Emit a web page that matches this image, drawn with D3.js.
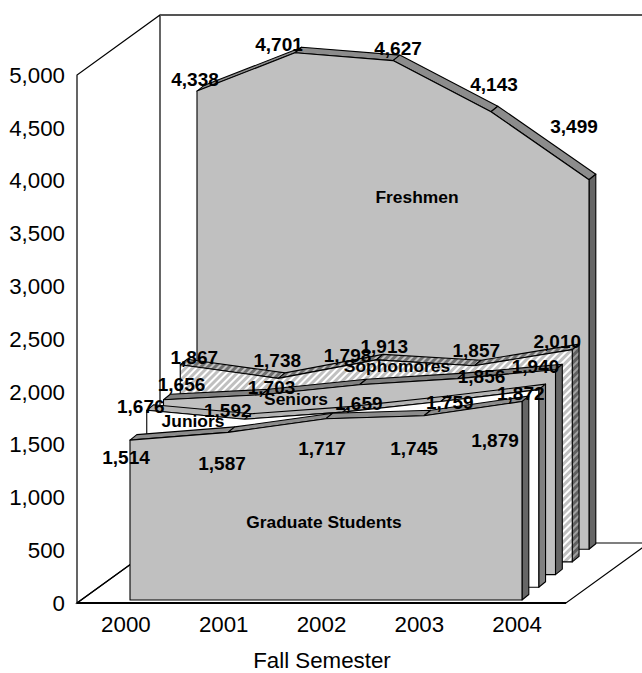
<!DOCTYPE html>
<html><head><meta charset="utf-8">
<script src="https://d3js.org/d3.v7.min.js"></script>
<style>html,body{margin:0;padding:0;background:#fff;overflow:hidden}svg{display:block}</style>
</head><body><svg id="c" width="642" height="673"></svg>
<script>
const years = ["2000","2001","2002","2003","2004"];
const yTicks = [0,500,1000,1500,2000,2500,3000,3500,4000,4500,5000];
const seriesNames = ["Freshmen","Sophomores","Seniors","Juniors","Graduate Students"];
const freshmen = [4338,4701,4627,4143,3499];
const sophomores = [1867,1738,1913,1857,2010];
const seniors = [1656,1703,1798,1856,1940];
const juniors = [1676,1592,1659,1759,1872];
const graduate = [1514,1587,1717,1745,1879];
const seriesValues = [freshmen,sophomores,seniors,juniors,graduate];

// layout (not data)
const W=642,H=673;
const floorY=603, topY=75, frontL=77, frontR=566;
const wallDX=83, wallDY=-60;
const slotDX=16.75, slotDY=-12.7, thickDX=6.8, thickDY=-5.5;
const firstX=130, firstBase=600, span=392;
const styles=[
 {front:"#c0c0c0",top:"#8c8c8c",side:"#666666"},
 {front:"url(#hatch)",top:"url(#hatch2)",side:"url(#hatch3)"},
 {front:"#c0c0c0",top:"#808080",side:"#666666"},
 {front:"#ffffff",top:"#b4b4b4",side:"#808080"},
 {front:"#c0c0c0",top:"#8c8c8c",side:"#666666"}
];
const labelNudge=[
 [[-2,-12],[-16,-8],[5,-12],[3,-27],[-15,-53]],
 [[14,-7],[-1,-18],[8,-14],[2,-15],[-15,-8]],
 [[18,-15],[10,-7],[-12,-29],[24,-2],[-20,-3]],
 [[-6,-4],[-17,-9],[16,-9],[9,1],[-18,4]],
 [[-4,17],[-6,31],[-4,30],[-10,33],[-27,39]]
];
const nameAnchors=[[417,197],[397,366],[296,399],[193,421],[324,522]];

const svg=d3.select("#c");
const defs=svg.append("defs");
function hatch(id,bg,fg){
  const p=defs.append("pattern").attr("id",id).attr("width",5).attr("height",5)
    .attr("patternUnits","userSpaceOnUse").attr("patternTransform","rotate(45)");
  p.append("rect").attr("width",5).attr("height",5).attr("fill",bg);
  p.append("rect").attr("width",3).attr("height",5).attr("fill",fg);
}
hatch("hatch","#ffffff","#c0c0c0");
hatch("hatch2","#c0c0c0","#707070");
hatch("hatch3","#a0a0a0","#606060");

const y=d3.scaleLinear().domain([0,5000]).range([0,floorY-topY]);
const x=d3.scalePoint().domain(years).range([0,span]);
const poly=d3.line().curve(d3.curveLinearClosed);
const xBand=d3.scaleBand().domain(years).range([frontL,frontR]);
const yAxisScale=d3.scaleLinear().domain([0,5000]).range([floorY,topY]);

// walls and floor
const wall=svg.append("g").attr("fill","none").attr("stroke","#000").attr("stroke-width",1.2);
wall.append("path").attr("d",poly([[frontL,floorY],[frontL,topY],[frontL+wallDX,topY+wallDY],[frontL+wallDX,floorY+wallDY]]));
wall.append("path").attr("d",poly([[frontL,floorY],[frontR,floorY],[frontR+wallDX,floorY+wallDY],[frontL+wallDX,floorY+wallDY]]));
wall.append("path").attr("stroke","#555").attr("stroke-width",2)
  .attr("d",d3.line()([[frontL+wallDX,topY+wallDY],[W+5,topY+wallDY]]));
svg.append("line").attr("x1",frontL).attr("x2",frontR).attr("y1",floorY).attr("y2",floorY).attr("stroke","#000").attr("stroke-width",2);

// extruded areas, back to front
seriesValues.forEach((vals,k)=>{
  const i=seriesValues.length-1-k;
  const x0=firstX+i*slotDX, base=firstBase+i*slotDY;
  const pts=vals.map((v,j)=>[x0+x(years[j]),base-y(v)]);
  const g=svg.append("g").attr("stroke","#000").attr("stroke-width",1.1).attr("stroke-linejoin","round");
  const st=styles[k];
  d3.pairs(pts).forEach(([a,b])=>{
    g.append("path").attr("fill",st.top)
      .attr("d",poly([a,b,[b[0]+thickDX,b[1]+thickDY],[a[0]+thickDX,a[1]+thickDY]]));
  });
  const last=pts[pts.length-1];
  g.append("path").attr("fill",st.side)
    .attr("d",poly([last,[last[0]+thickDX,last[1]+thickDY],[last[0]+thickDX,base+thickDY],[last[0],base]]));
  g.append("path").attr("fill",st.front)
    .attr("d",poly([[pts[0][0],base],...pts,[last[0],base]]));
});

// value labels
const labels=svg.append("g").attr("font-family","'Liberation Sans',Arial,sans-serif").attr("font-weight","bold")
  .attr("text-anchor","middle").attr("fill","#000");
const fmt=d3.format(",");
seriesValues.forEach((vals,k)=>{
  const i=seriesValues.length-1-k;
  const x0=firstX+i*slotDX, base=firstBase+i*slotDY;
  labels.append("text").attr("x",nameAnchors[k][0]).attr("y",nameAnchors[k][1])
    .attr("dy","0.35em").attr("font-size",17.4).text(seriesNames[k]);
  vals.forEach((v,j)=>{
    const n=labelNudge[k][j];
    labels.append("text").attr("x",x0+x(years[j])+n[0]).attr("y",base-y(v)+n[1])
      .attr("dy","0.35em").attr("font-size",19).text(fmt(v));
  });
});

// axis text
const axT=svg.append("g").attr("font-family","'Liberation Sans',Arial,sans-serif").attr("fill","#000").attr("font-size",22.3);
yTicks.forEach(t=>{
  axT.append("text").attr("x",65).attr("y",yAxisScale(t)).attr("dy","0.35em").attr("text-anchor","end").text(fmt(t));
});
years.forEach(t=>{
  axT.append("text").attr("x",xBand(t)+xBand.bandwidth()/2).attr("y",624).attr("dy","0.35em").attr("text-anchor","middle").text(t);
});
axT.append("text").attr("x",322).attr("y",660.5).attr("dy","0.35em").attr("text-anchor","middle").text("Fall Semester");
</script></body></html>
